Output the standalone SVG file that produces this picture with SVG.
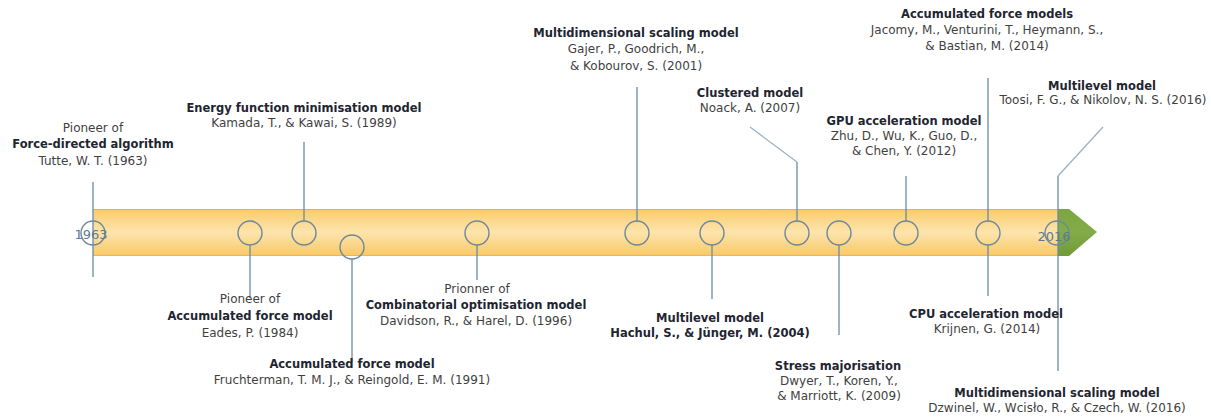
<svg xmlns="http://www.w3.org/2000/svg" width="1211" height="419" viewBox="0 0 1211 419">
<defs>
<linearGradient id="barGrad" x1="0" y1="0" x2="0" y2="1">
<stop offset="0" stop-color="#f9cc6b"/>
<stop offset="0.5" stop-color="#fde4ad"/>
<stop offset="1" stop-color="#f8c865"/>
</linearGradient>
<linearGradient id="greenGrad" x1="0" y1="0" x2="0" y2="1">
<stop offset="0" stop-color="#7aa640"/>
<stop offset="0.5" stop-color="#83ac49"/>
<stop offset="1" stop-color="#6f9b38"/>
</linearGradient>
<style>
.t{font-family:"DejaVu Sans","Liberation Sans",sans-serif;font-size:12px;fill:#3f3f3f;text-anchor:middle}
.b{font-family:"DejaVu Sans","Liberation Sans",sans-serif;font-size:11.5px;font-weight:bold;fill:#1e2530;text-anchor:middle}
.yr{font-family:"DejaVu Sans","Liberation Sans",sans-serif;font-size:13px;fill:#5d7a94;text-anchor:middle}
.ln{stroke:#6a8aa3;stroke-width:1.3;fill:none}
.dg{stroke:#9db2c2;stroke-width:1.3;fill:none}
.c{stroke:#6e8898;stroke-width:1.4;fill:none}
</style>
</defs>
<g id="timeline">
<rect x="93" y="209" width="965" height="47" fill="url(#barGrad)"/>
<line x1="93" y1="209.5" x2="1058" y2="209.5" stroke="#e6b250" stroke-width="1"/>
<line x1="93" y1="255.5" x2="1058" y2="255.5" stroke="#e9b757" stroke-width="1"/>
<polygon points="1058,209 1069,209 1097,232 1069,256 1058,256" fill="url(#greenGrad)"/>
</g>
<g id="connectors">
<line class="ln" x1="93" y1="182" x2="93" y2="277"/>
<line class="ln" x1="250" y1="245" x2="250" y2="298"/>
<line class="ln" x1="304" y1="221" x2="304" y2="142"/>
<line class="ln" x1="352" y1="259" x2="352" y2="362"/>
<line class="ln" x1="477" y1="245" x2="477" y2="280"/>
<line class="ln" x1="637" y1="221" x2="637" y2="87"/>
<line class="ln" x1="712" y1="245" x2="712" y2="299"/>
<line class="ln" x1="797" y1="221" x2="797" y2="162"/>
<line class="dg" x1="797" y1="162" x2="750" y2="127"/>
<line class="ln" x1="839" y1="245" x2="839" y2="335"/>
<line class="ln" x1="906" y1="221" x2="906" y2="176"/>
<line class="ln" x1="988" y1="221" x2="988" y2="78"/>
<line class="ln" x1="988" y1="245" x2="988" y2="296"/>
<line class="ln" x1="1058" y1="176" x2="1058" y2="371"/>
<line class="dg" x1="1058" y1="176" x2="1103" y2="127"/>
</g>
<g id="n1963">
<circle class="c" cx="93" cy="233" r="12"/>
<text class="yr" x="91" y="239">1963</text>
<text class="t" x="93" y="132">Pioneer of</text>
<text class="b" x="93" y="148">Force-directed algorithm</text>
<text class="t" x="93" y="165">Tutte, W. T. (1963)</text>
</g>
<g id="n1984">
<circle class="c" cx="250" cy="233" r="12"/>
<text class="t" x="250" y="303">Pioneer of</text>
<text class="b" x="250" y="320">Accumulated force model</text>
<text class="t" x="250" y="337">Eades, P. (1984)</text>
</g>
<g id="n1989">
<circle class="c" cx="304" cy="233" r="12"/>
<text class="b" x="304" y="112">Energy function minimisation model</text>
<text class="t" x="304" y="127">Kamada, T., &amp; Kawai, S. (1989)</text>
</g>
<g id="n1991">
<circle class="c" cx="352" cy="247" r="12"/>
<text class="b" x="352" y="368">Accumulated force model</text>
<text class="t" x="352" y="384">Fruchterman, T. M. J., &amp; Reingold, E. M. (1991)</text>
</g>
<g id="n1996">
<circle class="c" cx="477" cy="233" r="12"/>
<text class="t" x="477" y="293">Prionner of</text>
<text class="b" x="476" y="309">Combinatorial optimisation model</text>
<text class="t" x="476" y="325">Davidson, R., &amp; Harel, D. (1996)</text>
</g>
<g id="n2001">
<circle class="c" cx="637" cy="233" r="12"/>
<text class="b" x="636" y="37">Multidimensional scaling model</text>
<text class="t" x="636" y="53">Gajer, P., Goodrich, M.,</text>
<text class="t" x="636" y="70">&amp; Kobourov, S. (2001)</text>
</g>
<g id="n2004">
<circle class="c" cx="712" cy="233" r="12"/>
<text class="b" x="710" y="322">Multilevel model</text>
<text class="b" x="710" y="337">Hachul, S., &amp; Jünger, M. (2004)</text>
</g>
<g id="n2007">
<circle class="c" cx="797" cy="233" r="12"/>
<text class="b" x="750" y="97">Clustered model</text>
<text class="t" x="750" y="112">Noack, A. (2007)</text>
</g>
<g id="n2009">
<circle class="c" cx="839" cy="233" r="12"/>
<text class="b" x="838" y="370">Stress majorisation</text>
<text class="t" x="839" y="385">Dwyer, T., Koren, Y.,</text>
<text class="t" x="839" y="400">&amp; Marriott, K. (2009)</text>
</g>
<g id="n2012">
<circle class="c" cx="906" cy="233" r="12"/>
<text class="b" x="904" y="125">GPU acceleration model</text>
<text class="t" x="904" y="140">Zhu, D., Wu, K., Guo, D.,</text>
<text class="t" x="904" y="155">&amp; Chen, Y. (2012)</text>
</g>
<g id="n2014a">
<circle class="c" cx="988" cy="233" r="12"/>
<text class="b" x="987" y="18">Accumulated force models</text>
<text class="t" x="987" y="34">Jacomy, M., Venturini, T., Heymann, S.,</text>
<text class="t" x="987" y="50">&amp; Bastian, M. (2014)</text>
</g>
<g id="n2014b">
<text class="b" x="986" y="318">CPU acceleration model</text>
<text class="t" x="987" y="333">Krijnen, G. (2014)</text>
</g>
<g id="n2016a">
<circle class="c" cx="1057" cy="233" r="12"/>
<text class="yr" x="1054" y="241">2016</text>
<text class="b" x="1102" y="90">Multilevel model</text>
<text class="t" x="1103" y="104">Toosi, F. G., &amp; Nikolov, N. S. (2016)</text>
</g>
<g id="n2016b">
<text class="b" x="1057" y="397">Multidimensional scaling model</text>
<text class="t" x="1057" y="412">Dzwinel, W., Wcisło, R., &amp; Czech, W. (2016)</text>
</g>
</svg>
